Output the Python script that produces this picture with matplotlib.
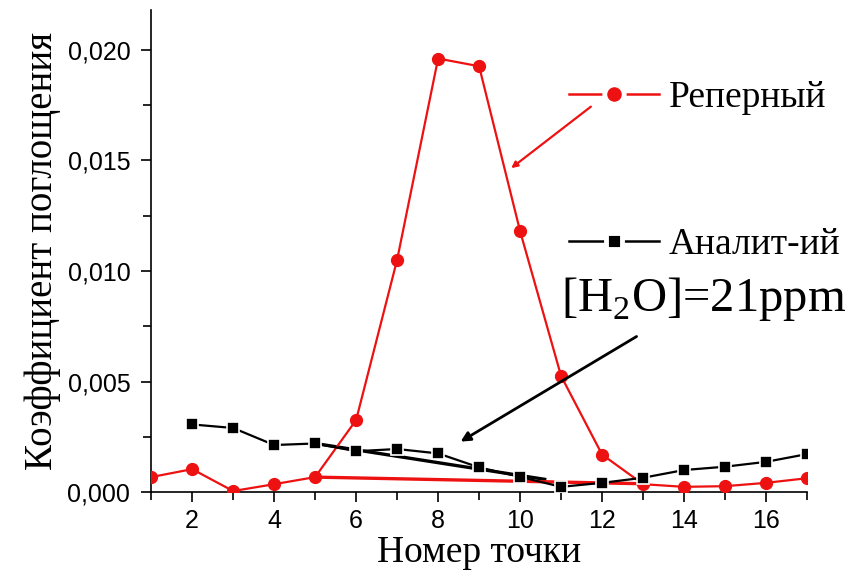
import matplotlib
matplotlib.use("Agg")
from matplotlib import pyplot as plt
from matplotlib.lines import Line2D
from matplotlib.ticker import MultipleLocator, FuncFormatter

# point numbers
points = list(range(1, 18))

# reference (red) series, x = 1..17
reference = [0.00068, 0.00104, 0.00005, 0.00036, 0.00068, 0.00326, 0.0105,
             0.0196, 0.01925, 0.0118, 0.00525, 0.0017, 0.00036, 0.00024,
             0.00027, 0.00042, 0.00063]

# analytical (black) series, x = 2..17
analyt_points = list(range(2, 18))
analyt = [0.00306, 0.0029, 0.00213, 0.0022, 0.00185, 0.00195, 0.00175,
          0.00112, 0.00069, 0.00024, 0.00042, 0.00065, 0.001, 0.00115,
          0.00137, 0.00172]

# baselines drawn under the peaks
red_base_x = [5, 13]
red_base_y = [0.00068, 0.00038]
black_base_x = [5, 10.6]
black_base_y = [0.0022, 0.00058]

RED = "#ee1111"

plt.rcParams["mathtext.fontset"] = "custom"
plt.rcParams["mathtext.rm"] = "Liberation Serif"

fig = plt.figure(figsize=(8.54, 5.79), dpi=100)
ax = fig.add_axes([0.177, 0.150, 0.768, 0.833])

ax.plot(black_base_x, black_base_y, color="black", lw=2.4, zorder=2)
ax.plot(red_base_x, red_base_y, color=RED, lw=2.4, zorder=2)

ax.plot(points, reference, color=RED, lw=1.6, marker="o",
        markersize=8.5, zorder=3)
ax.plot(analyt_points, analyt, color="black", lw=1.6, marker="s",
        markersize=8.5, markeredgecolor="white", markeredgewidth=1.2,
        zorder=3)

# arrows
ax.annotate("", xy=(8.49, 0.00222), xytext=(12.9, 0.0071),
            arrowprops=dict(arrowstyle="-|>", color="black", lw=2,
                            mutation_scale=14))
ax.annotate("", xy=(9.73, 0.01457), xytext=(11.78, 0.0175),
            arrowprops=dict(arrowstyle="-|>", color=RED, lw=1.6,
                            mutation_scale=9))

ax.text(0.625, 0.40, "[H$_2$O]=21ppm", transform=ax.transAxes,
        fontsize=35, family="Liberation Serif", va="center", ha="left")

# legend keys with a gap round the marker, like the original
handles = [
    Line2D([], [], color=RED, lw=1.8, marker="o", markersize=14,
           markeredgecolor="white", markeredgewidth=3.5),
    Line2D([], [], color="black", lw=1.8, marker="s", markersize=12,
           markeredgecolor="white", markeredgewidth=3.5),
]
ax.legend(handles, ["Реперный", "Аналит-ий"], loc="upper left",
          bbox_to_anchor=(0.609, 0.893), frameon=False,
          prop={"family": "Liberation Serif", "size": 27},
          handlelength=2.4, handletextpad=0.25, labelspacing=3.0,
          borderpad=0)

ax.set_xlim(1, 17)
ax.set_ylim(0, 0.0218)
ax.xaxis.set_major_locator(MultipleLocator(2))
ax.xaxis.set_minor_locator(MultipleLocator(1))
ax.yaxis.set_major_locator(MultipleLocator(0.005))
ax.yaxis.set_minor_locator(MultipleLocator(0.0025))
ax.yaxis.set_major_formatter(FuncFormatter(lambda v, p: f"{v:.3f}".replace(".", ",")))

for side in ["top", "right"]:
    ax.spines[side].set_visible(False)
for side in ["left", "bottom"]:
    ax.spines[side].set_linewidth(1.2)

ax.tick_params(which="major", direction="out", length=7, width=1.2,
               labelsize=18, pad=5)
ax.tick_params(axis="y", which="major", pad=8)
ax.tick_params(which="minor", direction="out", length=6, width=1.2)
for lab in ax.get_xticklabels() + ax.get_yticklabels():
    lab.set_family("Liberation Sans")

ax.set_xlabel("Номер точки", family="Liberation Serif", fontsize=27,
              labelpad=2)
ax.set_ylabel("Коэффициент поглощения", family="Liberation Serif",
              fontsize=28, labelpad=5)

fig.savefig("out.png", dpi=100)
